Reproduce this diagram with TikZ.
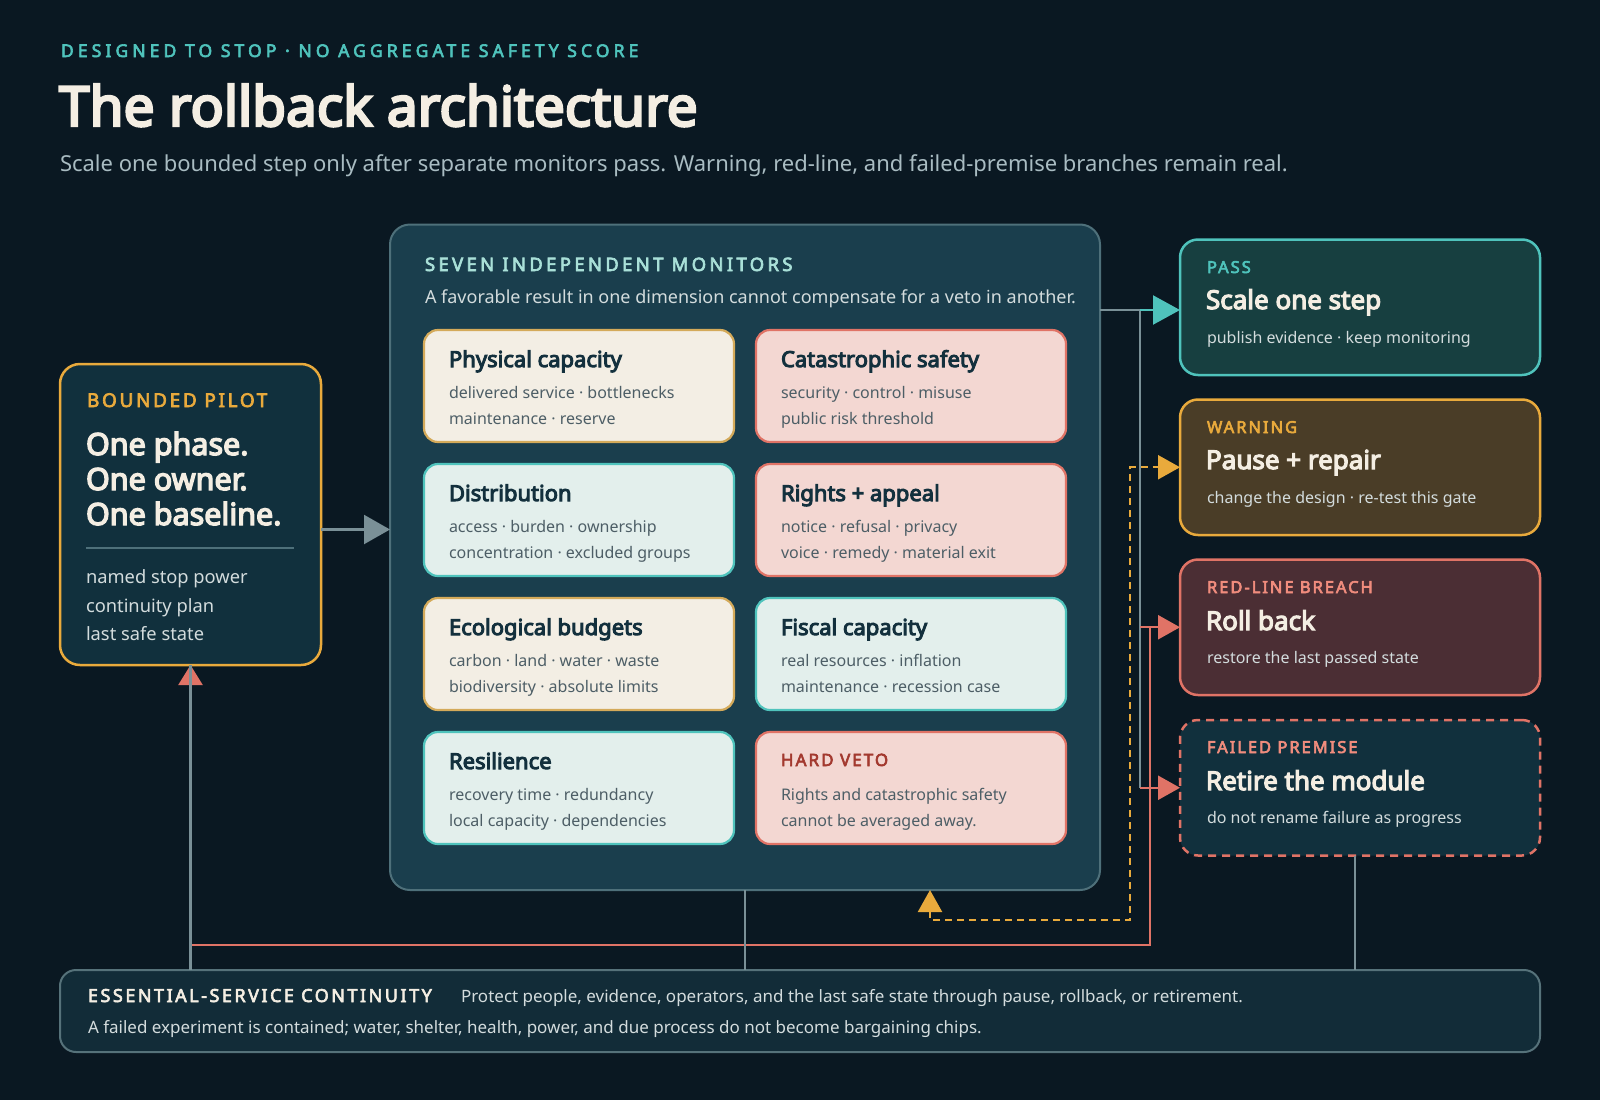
\documentclass[tikz,border=0pt]{standalone}
\usepackage{fontspec}
\setmainfont{Noto Sans}
\newfontfamily\bfam{Noto Sans}[FakeBold=4.5]
\newfontfamily\capsA{Noto Sans}[FakeBold=3.5, LetterSpace=14]
\newfontfamily\capsB{Noto Sans}[FakeBold=3.5, LetterSpace=12]
\newfontfamily\capsK{Noto Sans}[FakeBold=3.5, LetterSpace=23.5]
\newfontfamily\capsM{Noto Sans}[FakeBold=3.5, LetterSpace=18]
\usetikzlibrary{arrows.meta}
\newcommand\setfs[1]{\fontsize{#1}{#1}\selectfont}
\definecolor{bg}{HTML}{0A1822}
\definecolor{cream}{HTML}{F4EEE3}
\definecolor{kteal}{HTML}{4FC3BC}
\definecolor{subgray}{HTML}{A9BCC2}
\definecolor{orangeC}{HTML}{E9AA3C}
\definecolor{salmon}{HTML}{F08C7D}
\definecolor{redC}{HTML}{E07366}
\definecolor{paleteal}{HTML}{A9E0D8}
\definecolor{lighttext}{HTML}{D3DCDD}
\definecolor{pilotfill}{HTML}{11303D}
\definecolor{monfill}{HTML}{1A3E4D}
\definecolor{monborder}{HTML}{4E707A}
\definecolor{passfill}{HTML}{173F40}
\definecolor{warnfill}{HTML}{4A3D27}
\definecolor{redfill}{HTML}{4B2E34}
\definecolor{linegray}{HTML}{7A9097}
\definecolor{creamcard}{HTML}{F3EEE4}
\definecolor{creamborder}{HTML}{D4AA5A}
\definecolor{pinkcard}{HTML}{F3D7D2}
\definecolor{tealcard}{HTML}{E3EFEC}
\definecolor{cardtitle}{HTML}{13303D}
\definecolor{cardsub}{HTML}{4D5E66}
\definecolor{vetored}{HTML}{A3392F}
\definecolor{botfill}{HTML}{122C38}
\definecolor{botborder}{HTML}{56727A}
\begin{document}
\begin{tikzpicture}[x=1pt,y=-1pt,
  txt/.style={anchor=base west, inner sep=0pt, outer sep=0pt},
  box/.style={anchor=north west, inner sep=0pt, outer sep=0pt, line width=2.5pt},
  card/.style={box, line width=2.2pt, rounded corners=14pt, minimum width=310pt, minimum height=112pt},
  creamc/.style={card, draw=creamborder, fill=creamcard},
  pinkc/.style={card, draw=redC, fill=pinkcard},
  tealc/.style={card, draw=kteal, fill=tealcard},
  ctitle/.style={txt, text=cardtitle, font=\bfam\setfs{22}},
  csub/.style={txt, text=cardsub, font=\setfs{16}},
  rbox/.style={box, rounded corners=18pt, minimum width=360pt, minimum height=135.5pt},
  rlabel/.style={txt, font=\capsB\setfs{16.5}},
  rtitle/.style={txt, text=cream, font=\bfam\setfs{26}},
  rsub/.style={txt, text=lighttext, font=\setfs{16}},
  gline/.style={draw=linegray, line width=2.2pt},
  rline/.style={draw=redC, line width=2.4pt},
]
\fill[bg] (0,0) rectangle (1600,1100);
\useasboundingbox (0,0) rectangle (1600,1100);

% header
\node[txt, text=kteal, font=\capsK\setfs{17.5}] (kicker) at (61,57) {DESIGNED TO STOP · NO AGGREGATE SAFETY SCORE};
\node[txt, text=cream, font=\bfam\setfs{55}] (title) at (59,126) {The rollback architecture};
\node[txt, text=subgray, font=\setfs{22}] (subtitle) at (60,171) {Scale one bounded step only after separate monitors pass. Warning, red-line, and failed-premise branches remain real.};

% pilot
\node[box, draw=orangeC, fill=pilotfill, rounded corners=20pt, minimum width=261pt, minimum height=301pt] (pilot) at (60,364) {};
\node[txt, text=orangeC, font=\capsA\setfs{19}] (pilotlbl) at (87,407) {BOUNDED PILOT};
\node[txt, text=cream, font=\bfam\setfs{30.5}] (p1) at (86,455) {One phase.};
\node[txt, text=cream, font=\bfam\setfs{30.5}] (p2) at (86,490) {One owner.};
\node[txt, text=cream, font=\bfam\setfs{30.5}] (p3) at (86,525) {One baseline.};
\draw[monborder, line width=1.5pt] (86,548) -- (294,548);
\node[txt, text=lighttext, font=\setfs{18.3}] (l1) at (86,583) {named stop power};
\node[txt, text=lighttext, font=\setfs{18.3}] (l2) at (86,612) {continuity plan};
\node[txt, text=lighttext, font=\setfs{18.3}] (l3) at (86,640) {last safe state};

% monitors
\node[box, draw=monborder, fill=monfill, line width=2pt, rounded corners=20pt, minimum width=710pt, minimum height=665.5pt] (mon) at (390,224.5) {};
\node[txt, text=paleteal, font=\capsM\setfs{18.5}] (monlbl) at (425,271) {SEVEN INDEPENDENT MONITORS};
\node[txt, text=lighttext, font=\setfs{18}] (monsub) at (425,303) {A favorable result in one dimension cannot compensate for a veto in another.};

\node[creamc] (c1) at (424,330) {};
\node[ctitle] (c1t) at (449,367) {Physical capacity};
\node[csub] (c1a) at (449,398) {delivered service · bottlenecks};
\node[csub] (c1b) at (449,424) {maintenance · reserve};

\node[pinkc] (c2) at (756,330) {};
\node[ctitle] (c2t) at (781,367) {Catastrophic safety};
\node[csub] (c2a) at (781,398) {security · control · misuse};
\node[csub] (c2b) at (781,424) {public risk threshold};

\node[tealc] (c3) at (424,464) {};
\node[ctitle] (c3t) at (449,501) {Distribution};
\node[csub] (c3a) at (449,532) {access · burden · ownership};
\node[csub] (c3b) at (449,558) {concentration · excluded groups};

\node[pinkc] (c4) at (756,464) {};
\node[ctitle] (c4t) at (781,501) {Rights + appeal};
\node[csub] (c4a) at (781,532) {notice · refusal · privacy};
\node[csub] (c4b) at (781,558) {voice · remedy · material exit};

\node[creamc] (c5) at (424,598) {};
\node[ctitle] (c5t) at (449,635) {Ecological budgets};
\node[csub] (c5a) at (449,666) {carbon · land · water · waste};
\node[csub] (c5b) at (449,692) {biodiversity · absolute limits};

\node[tealc] (c6) at (756,598) {};
\node[ctitle] (c6t) at (781,635) {Fiscal capacity};
\node[csub] (c6a) at (781,666) {real resources · inflation};
\node[csub] (c6b) at (781,692) {maintenance · recession case};

\node[tealc] (c7) at (424,732) {};
\node[ctitle] (c7t) at (449,769) {Resilience};
\node[csub] (c7a) at (449,800) {recovery time · redundancy};
\node[csub] (c7b) at (449,826) {local capacity · dependencies};

\node[pinkc] (c8) at (756,732) {};
\node[txt, text=vetored, font=\capsB\setfs{17}] (veto) at (781,766) {HARD VETO};
\node[csub] (c8a) at (781,800) {Rights and catastrophic safety};
\node[csub] (c8b) at (781,826) {cannot be averaged away.};

% right column
\node[rbox, draw=kteal, fill=passfill] (pass) at (1180,239.5) {};
\node[rlabel, text=kteal] (passl) at (1207,273) {PASS};
\node[rtitle] (passt) at (1206,309) {Scale one step};
\node[rsub] (passs) at (1207,343) {publish evidence · keep monitoring};

\node[rbox, draw=orangeC, fill=warnfill] (warn) at (1180,399.5) {};
\node[rlabel, text=orangeC] (warnl) at (1207,433) {WARNING};
\node[rtitle] (warnt) at (1206,469) {Pause + repair};
\node[rsub] (warns) at (1207,503) {change the design · re-test this gate};

\node[rbox, draw=redC, fill=redfill] (redl) at (1180,559.5) {};
\node[rlabel, text=salmon] (redll) at (1207,593) {RED-LINE BREACH};
\node[rtitle] (redlt) at (1206,630) {Roll back};
\node[rsub] (redls) at (1207,663) {restore the last passed state};

\node[rbox, draw=redC, fill=pilotfill, dash pattern=on 8pt off 6pt] (fail) at (1180,720) {};
\node[rlabel, text=salmon] (faill) at (1207,753) {FAILED PREMISE};
\node[rtitle] (failt) at (1206,790) {Retire the module};
\node[rsub] (fails) at (1207,823) {do not rename failure as progress};

% bottom
\node[box, draw=botborder, fill=botfill, line width=2pt, rounded corners=16pt, minimum width=1480pt, minimum height=82pt] (bot) at (60,970) {};
\node[txt, text=cream, font=\capsA\setfs{18}] (botlbl) at (88,1002) {ESSENTIAL-SERVICE CONTINUITY};
\node[txt, text=lighttext, font=\setfs{17}] (bot1) at (461,1002) {Protect people, evidence, operators, and the last safe state through pause, rollback, or retirement.};
\node[txt, text=lighttext, font=\setfs{17}] (bot2) at (88,1033) {A failed experiment is contained; water, shelter, health, power, and due process do not become bargaining chips.};

% coordinates
\coordinate (trunk) at (1140,310);
\coordinate (loopR) at (1150,945);
\coordinate (oa) at (930,920);
\coordinate (ob) at (1130,920);

% red rollback path
\draw[rline, -{Triangle[length=20pt,width=24pt]}] (redl.west -| loopR) -- (loopR) -| (pilot.south);

% orange dashed loop
\draw[draw=orangeC, line width=2.2pt, dash pattern=on 7pt off 5pt,
  {Triangle[length=22pt,width=24pt]}-{Triangle[length=22pt,width=24pt]}]
  (oa |- mon.south) -- (oa) -- (ob) |- (warn.west);

% gray trunk
\draw[gline] (mon.east |- trunk) -- (trunk) -- (trunk |- fail.west);
\draw[draw=kteal, line width=2.2pt, -{Triangle[length=27pt,width=29pt]}] (trunk) -- (trunk -| pass.west);
\draw[rline, -{Triangle[length=22pt,width=24pt]}] (trunk |- redl.west) -- (redl.west);
\draw[rline, -{Triangle[length=22pt,width=24pt]}] (trunk |- fail.west) -- (fail.west);

% pilot to monitors
\draw[gline, -{Triangle[length=26pt,width=29pt]}] ([yshift=-15pt]pilot.east) -- ([yshift=-15pt]pilot.east -| mon.west);

% gray verticals to bottom
\draw[gline] (pilot.south) -- (pilot.south |- bot.north);
\draw[gline] (mon.south) -- (mon.south |- bot.north);
\draw[gline] ([xshift=-5pt]fail.south) -- ([xshift=-5pt]fail.south |- bot.north);
\end{tikzpicture}
\end{document}
